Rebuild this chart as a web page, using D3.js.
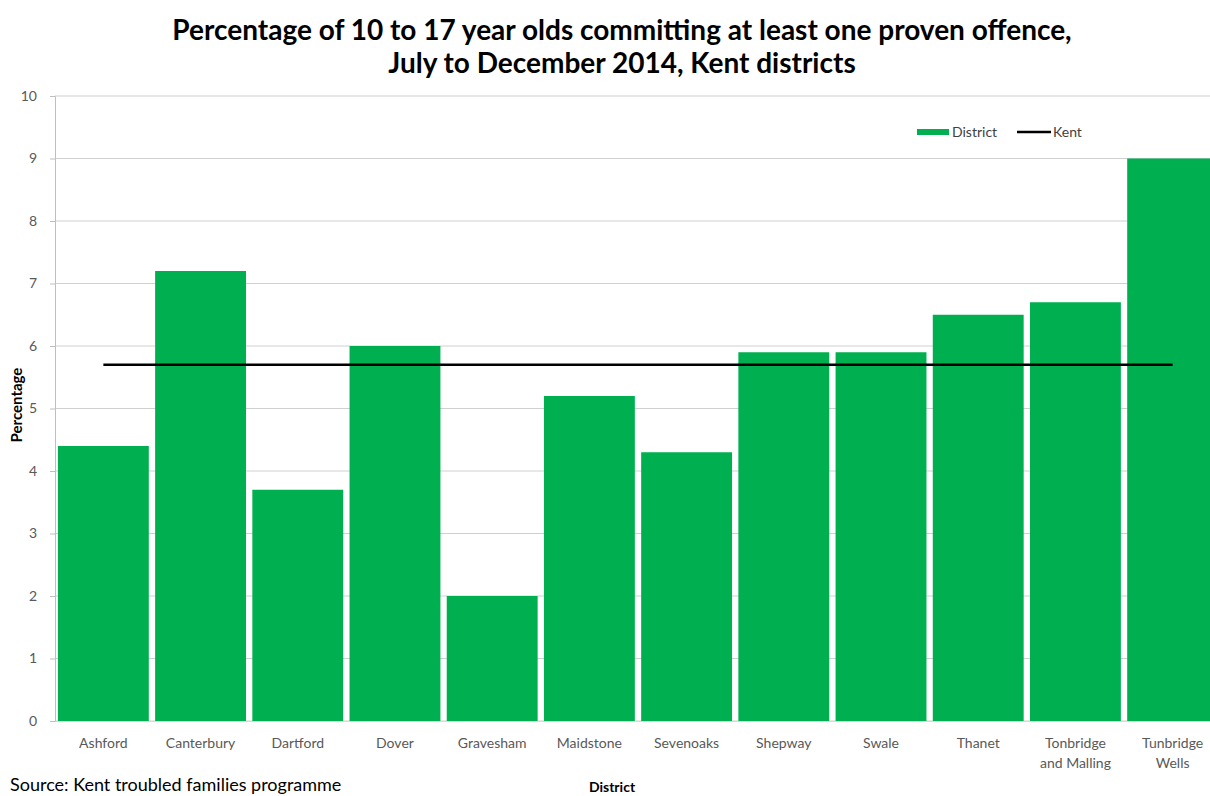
<!DOCTYPE html>
<html><head><meta charset="utf-8">
<script src="https://cdn.jsdelivr.net/npm/d3@7"></script>
<style>body{margin:0;background:#fff}svg{display:block}</style>
</head><body><svg id="c" width="1210" height="796"></svg>
<script>
const categories = ["Ashford","Canterbury","Dartford","Dover","Gravesham","Maidstone","Sevenoaks","Shepway","Swale","Thanet","Tonbridge and Malling","Tunbridge Wells"];
const districtValues = [4.4,7.2,3.7,6.0,2.0,5.2,4.3,5.9,5.9,6.5,6.7,9.0];
const kentValue = 5.7;
const yTicks = [0,1,2,3,4,5,6,7,8,9,10];
const titleLines = ["Percentage of 10 to 17 year olds committing at least one proven offence,","July to December 2014, Kent districts"];

(function(){
const svg = d3.select("#c");
const font = "Lato, 'Open Sans', sans-serif";
const pLeft = 55, pRight = 1221, pTop = 96, pBottom = 721;
const x = d3.scaleBand().domain(categories).range([pLeft, pRight]).paddingInner(0.065).paddingOuter(0.03);
const y = d3.scaleLinear().domain([0,10]).range([pBottom, pTop]);
const green = "#00B050";

svg.append("g").selectAll("line").data(yTicks).join("line")
  .attr("x1", pLeft).attr("x2", 1210).attr("y1", d=>y(d)).attr("y2", d=>y(d))
  .attr("stroke", "#d0d0d0").attr("stroke-width", 1);

const ya = svg.append("g").attr("transform", `translate(${pLeft},0)`)
  .call(d3.axisLeft(y).tickValues(yTicks).tickSize(5).tickPadding(13));
ya.select(".domain").attr("stroke", "#bfbfbf");
ya.selectAll(".tick line").attr("stroke", "#bfbfbf");
ya.selectAll("text").attr("font-family", font).attr("font-size", 14).attr("fill", "#595959");

svg.append("g").selectAll("rect").data(categories).join("rect")
  .attr("x", d=>x(d)).attr("width", x.bandwidth())
  .attr("y", (d,i)=>y(districtValues[i])).attr("height", (d,i)=>y(0)-y(districtValues[i]))
  .attr("fill", green);

const xa = svg.append("g").attr("transform", `translate(0,${pBottom})`)
  .call(d3.axisBottom(x).tickSize(0).tickPadding(17));
xa.select(".domain").attr("stroke", "#d9d9d9");
xa.selectAll(".tick text").attr("font-family", font).attr("font-size", 14).attr("fill", "#595959")
  .each(function(d){
    const t = d3.select(this);
    let lines;
    if (d === "Tonbridge and Malling") lines = ["Tonbridge","and Malling"];
    else if (d === "Tunbridge Wells") lines = ["Tunbridge","Wells"];
    else lines = [d];
    t.text(null);
    lines.forEach((l,i)=>t.append("tspan").attr("x",0).attr("dy", i===0? "0.71em" : "1.4em").text(l));
  });

svg.append("line")
  .attr("x1", x(categories[0]) + x.bandwidth()/2)
  .attr("x2", x(categories[categories.length-1]) + x.bandwidth()/2)
  .attr("y1", y(kentValue)).attr("y2", y(kentValue))
  .attr("stroke", "#000").attr("stroke-width", 2.5);

svg.append("text").attr("x", 622).attr("y", 40).attr("text-anchor","middle")
  .attr("font-family", font).attr("font-weight", "bold").attr("font-size", 28).attr("fill","#000")
  .selectAll("tspan").data(titleLines).join("tspan").attr("x", 622).attr("dy",(d,i)=>i?33:0).text(d=>d);

svg.append("text").attr("transform", "translate(22,405) rotate(-90)").attr("text-anchor","middle")
  .attr("font-family", font).attr("font-weight","bold").attr("font-size", 15).attr("fill","#000").text("Percentage");
svg.append("text").attr("x", 612).attr("y", 792).attr("text-anchor","middle")
  .attr("font-family", font).attr("font-weight","bold").attr("font-size", 14).attr("fill","#000").text("District");

svg.append("text").attr("x", 10).attr("y", 791)
  .attr("font-family", font).attr("font-size", 18).attr("fill","#000").text("Source: Kent troubled families programme");

const lg = svg.append("g").attr("font-family", font).attr("font-size", 14).attr("fill","#404040");
lg.append("rect").attr("x", 917).attr("y", 129).attr("width", 32).attr("height", 6).attr("fill", green);
lg.append("text").attr("x", 952).attr("y", 137).text("District");
lg.append("line").attr("x1", 1017).attr("x2", 1051).attr("y1", 132).attr("y2", 132).attr("stroke","#000").attr("stroke-width",2.5);
lg.append("text").attr("x", 1053).attr("y", 137).text("Kent");
})();
</script></body></html>
